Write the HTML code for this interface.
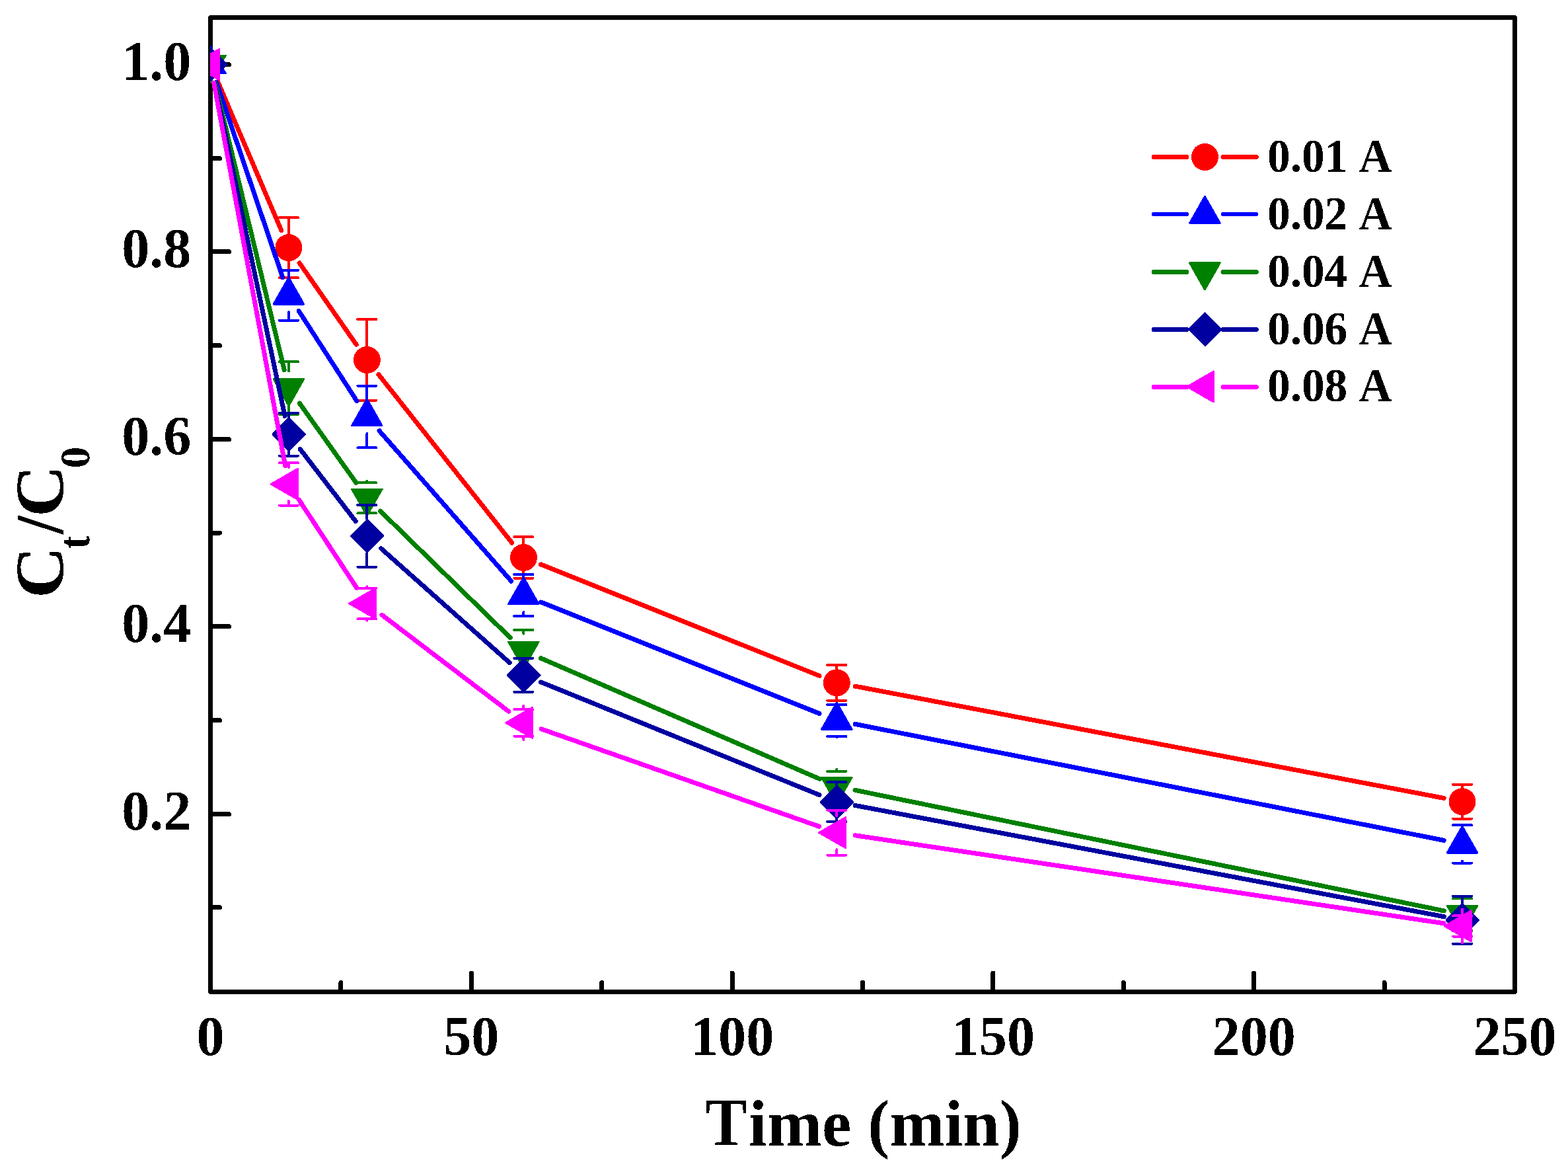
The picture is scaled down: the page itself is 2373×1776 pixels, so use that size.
<!DOCTYPE html>
<html lang="en"><head><meta charset="utf-8"><title>Ct/C0 vs Time</title>
<style>
html,body{margin:0;padding:0;background:#fff;}
body{width:2373px;height:1776px;overflow:hidden;}
svg{display:block;}
text{font-family:"Liberation Serif","Times New Roman",serif;font-weight:bold;fill:#000;filter:url(#px);}
.tk{font-size:83.33px;font-kerning:none;}
.ttl{font-size:100px;font-kerning:none;}
.lg{font-size:70.83px;font-kerning:none;}
</style></head><body>
<svg width="2373" height="1776" viewBox="0 0 2373 1776" shape-rendering="crispEdges">
<rect x="0" y="0" width="2373" height="1776" fill="#ffffff"/>
<defs><filter id="px" x="-5%" y="-5%" width="110%" height="110%" color-interpolation-filters="sRGB"><feComponentTransfer><feFuncA type="discrete" tableValues="0 1"/></feComponentTransfer></filter></defs>
<defs><clipPath id="cp"><rect x="318.0" y="26.0" width="1975.0" height="1474.9"/></clipPath></defs>
<g stroke="#000" stroke-width="7" fill="none" stroke-linecap="round">
<line x1="318.50" y1="1500.4" x2="318.50" y2="1472.10"/>
<line x1="515.90" y1="1500.4" x2="515.90" y2="1486.40"/>
<line x1="713.30" y1="1500.4" x2="713.30" y2="1472.10"/>
<line x1="910.70" y1="1500.4" x2="910.70" y2="1486.40"/>
<line x1="1108.10" y1="1500.4" x2="1108.10" y2="1472.10"/>
<line x1="1305.50" y1="1500.4" x2="1305.50" y2="1486.40"/>
<line x1="1502.90" y1="1500.4" x2="1502.90" y2="1472.10"/>
<line x1="1700.30" y1="1500.4" x2="1700.30" y2="1486.40"/>
<line x1="1897.70" y1="1500.4" x2="1897.70" y2="1472.10"/>
<line x1="2095.10" y1="1500.4" x2="2095.10" y2="1486.40"/>
<line x1="2292.50" y1="1500.4" x2="2292.50" y2="1472.10"/>
<line x1="318.5" y1="1372.50" x2="332.50" y2="1372.50"/>
<line x1="318.5" y1="1231.50" x2="346.50" y2="1231.50"/>
<line x1="318.5" y1="1089.50" x2="332.50" y2="1089.50"/>
<line x1="318.5" y1="947.50" x2="346.50" y2="947.50"/>
<line x1="318.5" y1="806.00" x2="332.50" y2="806.00"/>
<line x1="318.5" y1="664.50" x2="346.50" y2="664.50"/>
<line x1="318.5" y1="522.50" x2="332.50" y2="522.50"/>
<line x1="318.5" y1="380.50" x2="346.50" y2="380.50"/>
<line x1="318.5" y1="239.50" x2="332.50" y2="239.50"/>
<line x1="318.5" y1="97.50" x2="346.50" y2="97.50"/>
</g>
<rect x="318.5" y="26.5" width="1974.0" height="1473.9" fill="none" stroke="#000" stroke-width="7" stroke-linejoin="round"/>
<g clip-path="url(#cp)">
<g stroke="#ff0000" fill="none">
<line x1="329.62" y1="123.52" x2="425.82" y2="348.58" stroke-width="7.0" stroke-linecap="round"/>
<line x1="453.13" y1="397.81" x2="539.19" y2="521.19" stroke-width="7.0" stroke-linecap="round"/>
<line x1="572.96" y1="566.58" x2="774.82" y2="821.22" stroke-width="7.0" stroke-linecap="round"/>
<line x1="818.68" y1="853.90" x2="1240.02" y2="1022.30" stroke-width="7.0" stroke-linecap="round"/>
<line x1="1294.10" y1="1038.08" x2="2185.20" y2="1207.42" stroke-width="7.0" stroke-linecap="round"/>
<line x1="422.84" y1="329.10" x2="451.04" y2="329.10" stroke-width="4" stroke-linecap="round"/>
<line x1="436.94" y1="353.60" x2="436.94" y2="329.10" stroke-width="4" stroke-linecap="round"/>
<line x1="422.84" y1="420.10" x2="451.04" y2="420.10" stroke-width="4" stroke-linecap="round"/>
<line x1="436.94" y1="395.60" x2="436.94" y2="420.10" stroke-width="4" stroke-linecap="round"/>
<line x1="541.28" y1="483.10" x2="569.48" y2="483.10" stroke-width="4" stroke-linecap="round"/>
<line x1="555.38" y1="523.40" x2="555.38" y2="483.10" stroke-width="4" stroke-linecap="round"/>
<line x1="541.28" y1="605.70" x2="569.48" y2="605.70" stroke-width="4" stroke-linecap="round"/>
<line x1="555.38" y1="565.40" x2="555.38" y2="605.70" stroke-width="4" stroke-linecap="round"/>
<line x1="778.30" y1="812.20" x2="806.50" y2="812.20" stroke-width="4" stroke-linecap="round"/>
<line x1="792.40" y1="822.40" x2="792.40" y2="812.20" stroke-width="4" stroke-linecap="round"/>
<line x1="778.30" y1="874.60" x2="806.50" y2="874.60" stroke-width="4" stroke-linecap="round"/>
<line x1="792.40" y1="864.40" x2="792.40" y2="874.60" stroke-width="4" stroke-linecap="round"/>
<line x1="1252.20" y1="1005.90" x2="1280.40" y2="1005.90" stroke-width="4" stroke-linecap="round"/>
<line x1="1266.30" y1="1011.80" x2="1266.30" y2="1005.90" stroke-width="4" stroke-linecap="round"/>
<line x1="1252.20" y1="1059.70" x2="1280.40" y2="1059.70" stroke-width="4" stroke-linecap="round"/>
<line x1="1266.30" y1="1053.80" x2="1266.30" y2="1059.70" stroke-width="4" stroke-linecap="round"/>
<line x1="2198.90" y1="1186.90" x2="2227.10" y2="1186.90" stroke-width="4" stroke-linecap="round"/>
<line x1="2213.00" y1="1191.70" x2="2213.00" y2="1186.90" stroke-width="4" stroke-linecap="round"/>
<line x1="2198.90" y1="1238.50" x2="2227.10" y2="1238.50" stroke-width="4" stroke-linecap="round"/>
<line x1="2213.00" y1="1233.70" x2="2213.00" y2="1238.50" stroke-width="4" stroke-linecap="round"/>
</g>
<circle cx="318.50" cy="97.50" r="20.5" fill="#ff0000"/>
<circle cx="436.94" cy="374.60" r="20.5" fill="#ff0000"/>
<circle cx="555.38" cy="544.40" r="20.5" fill="#ff0000"/>
<circle cx="792.40" cy="843.40" r="20.5" fill="#ff0000"/>
<circle cx="1266.30" cy="1032.80" r="20.5" fill="#ff0000"/>
<circle cx="2213.00" cy="1212.70" r="20.5" fill="#ff0000"/>
<g stroke="#0000ff" fill="none">
<line x1="327.59" y1="124.30" x2="427.85" y2="419.90" stroke-width="7.0" stroke-linecap="round"/>
<line x1="452.27" y1="470.49" x2="540.05" y2="606.71" stroke-width="7.0" stroke-linecap="round"/>
<line x1="574.05" y1="651.76" x2="773.73" y2="879.14" stroke-width="7.0" stroke-linecap="round"/>
<line x1="818.68" y1="910.91" x2="1240.02" y2="1079.39" stroke-width="7.0" stroke-linecap="round"/>
<line x1="1294.06" y1="1095.38" x2="2185.24" y2="1271.32" stroke-width="7.0" stroke-linecap="round"/>
<line x1="422.84" y1="408.70" x2="451.04" y2="408.70" stroke-width="4" stroke-linecap="round"/>
<line x1="436.94" y1="421.10" x2="436.94" y2="408.70" stroke-width="4" stroke-linecap="round"/>
<line x1="422.84" y1="484.70" x2="451.04" y2="484.70" stroke-width="4" stroke-linecap="round"/>
<line x1="436.94" y1="472.30" x2="436.94" y2="484.70" stroke-width="4" stroke-linecap="round"/>
<line x1="541.28" y1="583.70" x2="569.48" y2="583.70" stroke-width="4" stroke-linecap="round"/>
<line x1="555.38" y1="604.90" x2="555.38" y2="583.70" stroke-width="4" stroke-linecap="round"/>
<line x1="541.28" y1="677.30" x2="569.48" y2="677.30" stroke-width="4" stroke-linecap="round"/>
<line x1="555.38" y1="656.10" x2="555.38" y2="677.30" stroke-width="4" stroke-linecap="round"/>
<line x1="778.30" y1="868.90" x2="806.50" y2="868.90" stroke-width="4" stroke-linecap="round"/>
<line x1="792.40" y1="874.80" x2="792.40" y2="868.90" stroke-width="4" stroke-linecap="round"/>
<line x1="778.30" y1="931.90" x2="806.50" y2="931.90" stroke-width="4" stroke-linecap="round"/>
<line x1="792.40" y1="926.00" x2="792.40" y2="931.90" stroke-width="4" stroke-linecap="round"/>
<line x1="1252.20" y1="1065.90" x2="1280.40" y2="1065.90" stroke-width="4" stroke-linecap="round"/>
<line x1="1266.30" y1="1064.30" x2="1266.30" y2="1065.90" stroke-width="4" stroke-linecap="round"/>
<line x1="1252.20" y1="1113.90" x2="1280.40" y2="1113.90" stroke-width="4" stroke-linecap="round"/>
<line x1="1266.30" y1="1115.50" x2="1266.30" y2="1113.90" stroke-width="4" stroke-linecap="round"/>
<line x1="2198.90" y1="1248.10" x2="2227.10" y2="1248.10" stroke-width="4" stroke-linecap="round"/>
<line x1="2213.00" y1="1251.20" x2="2213.00" y2="1248.10" stroke-width="4" stroke-linecap="round"/>
<line x1="2198.90" y1="1305.50" x2="2227.10" y2="1305.50" stroke-width="4" stroke-linecap="round"/>
<line x1="2213.00" y1="1302.40" x2="2213.00" y2="1305.50" stroke-width="4" stroke-linecap="round"/>
</g>
<polygon points="318.50,70.90 341.25,110.90 295.75,110.90" fill="#0000ff" stroke="#0000ff" stroke-width="3.0" stroke-linejoin="round"/>
<polygon points="436.94,420.10 459.69,460.10 414.19,460.10" fill="#0000ff" stroke="#0000ff" stroke-width="3.0" stroke-linejoin="round"/>
<polygon points="555.38,603.90 578.13,643.90 532.63,643.90" fill="#0000ff" stroke="#0000ff" stroke-width="3.0" stroke-linejoin="round"/>
<polygon points="792.40,873.80 815.15,913.80 769.65,913.80" fill="#0000ff" stroke="#0000ff" stroke-width="3.0" stroke-linejoin="round"/>
<polygon points="1266.30,1063.30 1289.05,1103.30 1243.55,1103.30" fill="#0000ff" stroke="#0000ff" stroke-width="3.0" stroke-linejoin="round"/>
<polygon points="2213.00,1250.20 2235.75,1290.20 2190.25,1290.20" fill="#0000ff" stroke="#0000ff" stroke-width="3.0" stroke-linejoin="round"/>
<g stroke="#008000" fill="none">
<line x1="325.16" y1="125.01" x2="430.28" y2="559.49" stroke-width="7.0" stroke-linecap="round"/>
<line x1="453.35" y1="610.06" x2="538.97" y2="730.34" stroke-width="7.0" stroke-linecap="round"/>
<line x1="575.65" y1="773.15" x2="772.13" y2="964.65" stroke-width="7.0" stroke-linecap="round"/>
<line x1="818.37" y1="995.65" x2="1240.33" y2="1178.35" stroke-width="7.0" stroke-linecap="round"/>
<line x1="1294.02" y1="1195.28" x2="2185.28" y2="1377.92" stroke-width="7.0" stroke-linecap="round"/>
<line x1="422.84" y1="547.30" x2="451.04" y2="547.30" stroke-width="4" stroke-linecap="round"/>
<line x1="436.94" y1="561.40" x2="436.94" y2="547.30" stroke-width="4" stroke-linecap="round"/>
<line x1="422.84" y1="626.70" x2="451.04" y2="626.70" stroke-width="4" stroke-linecap="round"/>
<line x1="436.94" y1="612.60" x2="436.94" y2="626.70" stroke-width="4" stroke-linecap="round"/>
<line x1="541.28" y1="730.40" x2="569.48" y2="730.40" stroke-width="4" stroke-linecap="round"/>
<line x1="555.38" y1="727.80" x2="555.38" y2="730.40" stroke-width="4" stroke-linecap="round"/>
<line x1="541.28" y1="776.40" x2="569.48" y2="776.40" stroke-width="4" stroke-linecap="round"/>
<line x1="555.38" y1="779.00" x2="555.38" y2="776.40" stroke-width="4" stroke-linecap="round"/>
<line x1="778.30" y1="953.00" x2="806.50" y2="953.00" stroke-width="4" stroke-linecap="round"/>
<line x1="792.40" y1="958.80" x2="792.40" y2="953.00" stroke-width="4" stroke-linecap="round"/>
<line x1="778.30" y1="1015.80" x2="806.50" y2="1015.80" stroke-width="4" stroke-linecap="round"/>
<line x1="792.40" y1="1010.00" x2="792.40" y2="1015.80" stroke-width="4" stroke-linecap="round"/>
<line x1="1252.20" y1="1166.80" x2="1280.40" y2="1166.80" stroke-width="4" stroke-linecap="round"/>
<line x1="1266.30" y1="1164.00" x2="1266.30" y2="1166.80" stroke-width="4" stroke-linecap="round"/>
<line x1="1252.20" y1="1212.40" x2="1280.40" y2="1212.40" stroke-width="4" stroke-linecap="round"/>
<line x1="1266.30" y1="1215.20" x2="1266.30" y2="1212.40" stroke-width="4" stroke-linecap="round"/>
<line x1="2198.90" y1="1359.20" x2="2227.10" y2="1359.20" stroke-width="4" stroke-linecap="round"/>
<line x1="2213.00" y1="1358.00" x2="2213.00" y2="1359.20" stroke-width="4" stroke-linecap="round"/>
<line x1="2198.90" y1="1408.00" x2="2227.10" y2="1408.00" stroke-width="4" stroke-linecap="round"/>
<line x1="2213.00" y1="1409.20" x2="2213.00" y2="1408.00" stroke-width="4" stroke-linecap="round"/>
</g>
<polygon points="318.50,124.10 341.25,84.10 295.75,84.10" fill="#008000" stroke="#008000" stroke-width="3.0" stroke-linejoin="round"/>
<polygon points="436.94,613.60 459.69,573.60 414.19,573.60" fill="#008000" stroke="#008000" stroke-width="3.0" stroke-linejoin="round"/>
<polygon points="555.38,780.00 578.13,740.00 532.63,740.00" fill="#008000" stroke="#008000" stroke-width="3.0" stroke-linejoin="round"/>
<polygon points="792.40,1011.00 815.15,971.00 769.65,971.00" fill="#008000" stroke="#008000" stroke-width="3.0" stroke-linejoin="round"/>
<polygon points="1266.30,1216.20 1289.05,1176.20 1243.55,1176.20" fill="#008000" stroke="#008000" stroke-width="3.0" stroke-linejoin="round"/>
<polygon points="2213.00,1410.20 2235.75,1370.20 2190.25,1370.20" fill="#008000" stroke="#008000" stroke-width="3.0" stroke-linejoin="round"/>
<g stroke="#0000a0" fill="none">
<line x1="324.36" y1="125.19" x2="431.08" y2="629.31" stroke-width="7.0" stroke-linecap="round"/>
<line x1="454.21" y1="679.42" x2="538.11" y2="788.38" stroke-width="7.0" stroke-linecap="round"/>
<line x1="576.54" y1="829.59" x2="771.24" y2="1002.51" stroke-width="7.0" stroke-linecap="round"/>
<line x1="818.63" y1="1031.92" x2="1240.07" y2="1202.58" stroke-width="7.0" stroke-linecap="round"/>
<line x1="1294.11" y1="1218.45" x2="2185.19" y2="1386.65" stroke-width="7.0" stroke-linecap="round"/>
<line x1="422.84" y1="624.50" x2="451.04" y2="624.50" stroke-width="4" stroke-linecap="round"/>
<line x1="436.94" y1="631.40" x2="436.94" y2="624.50" stroke-width="4" stroke-linecap="round"/>
<line x1="422.84" y1="689.50" x2="451.04" y2="689.50" stroke-width="4" stroke-linecap="round"/>
<line x1="436.94" y1="682.60" x2="436.94" y2="689.50" stroke-width="4" stroke-linecap="round"/>
<line x1="541.28" y1="763.90" x2="569.48" y2="763.90" stroke-width="4" stroke-linecap="round"/>
<line x1="555.38" y1="785.20" x2="555.38" y2="763.90" stroke-width="4" stroke-linecap="round"/>
<line x1="541.28" y1="857.70" x2="569.48" y2="857.70" stroke-width="4" stroke-linecap="round"/>
<line x1="555.38" y1="836.40" x2="555.38" y2="857.70" stroke-width="4" stroke-linecap="round"/>
<line x1="778.30" y1="995.80" x2="806.50" y2="995.80" stroke-width="4" stroke-linecap="round"/>
<line x1="792.40" y1="995.70" x2="792.40" y2="995.80" stroke-width="4" stroke-linecap="round"/>
<line x1="778.30" y1="1046.80" x2="806.50" y2="1046.80" stroke-width="4" stroke-linecap="round"/>
<line x1="792.40" y1="1046.90" x2="792.40" y2="1046.80" stroke-width="4" stroke-linecap="round"/>
<line x1="1252.20" y1="1183.40" x2="1280.40" y2="1183.40" stroke-width="4" stroke-linecap="round"/>
<line x1="1266.30" y1="1187.60" x2="1266.30" y2="1183.40" stroke-width="4" stroke-linecap="round"/>
<line x1="1252.20" y1="1243.00" x2="1280.40" y2="1243.00" stroke-width="4" stroke-linecap="round"/>
<line x1="1266.30" y1="1238.80" x2="1266.30" y2="1243.00" stroke-width="4" stroke-linecap="round"/>
<line x1="2198.90" y1="1355.90" x2="2227.10" y2="1355.90" stroke-width="4" stroke-linecap="round"/>
<line x1="2213.00" y1="1366.30" x2="2213.00" y2="1355.90" stroke-width="4" stroke-linecap="round"/>
<line x1="2198.90" y1="1427.90" x2="2227.10" y2="1427.90" stroke-width="4" stroke-linecap="round"/>
<line x1="2213.00" y1="1417.50" x2="2213.00" y2="1427.90" stroke-width="4" stroke-linecap="round"/>
</g>
<polygon points="318.80,73.20 343.10,97.50 318.80,121.80 294.50,97.50" fill="#0000a0" stroke="#0000a0" stroke-width="3.0" stroke-linejoin="round"/>
<polygon points="437.24,632.70 461.54,657.00 437.24,681.30 412.94,657.00" fill="#0000a0" stroke="#0000a0" stroke-width="3.0" stroke-linejoin="round"/>
<polygon points="555.68,786.50 579.98,810.80 555.68,835.10 531.38,810.80" fill="#0000a0" stroke="#0000a0" stroke-width="3.0" stroke-linejoin="round"/>
<polygon points="792.70,997.00 817.00,1021.30 792.70,1045.60 768.40,1021.30" fill="#0000a0" stroke="#0000a0" stroke-width="3.0" stroke-linejoin="round"/>
<polygon points="1266.60,1188.90 1290.90,1213.20 1266.60,1237.50 1242.30,1213.20" fill="#0000a0" stroke="#0000a0" stroke-width="3.0" stroke-linejoin="round"/>
<polygon points="2213.30,1367.60 2237.60,1391.90 2213.30,1416.20 2189.00,1391.90" fill="#0000a0" stroke="#0000a0" stroke-width="3.0" stroke-linejoin="round"/>
<g stroke="#ff00ff" fill="none">
<line x1="323.69" y1="125.32" x2="431.75" y2="704.58" stroke-width="7.0" stroke-linecap="round"/>
<line x1="452.46" y1="756.06" x2="539.86" y2="889.34" stroke-width="7.0" stroke-linecap="round"/>
<line x1="577.90" y1="930.14" x2="769.88" y2="1076.26" stroke-width="7.0" stroke-linecap="round"/>
<line x1="819.11" y1="1102.77" x2="1239.59" y2="1250.23" stroke-width="7.0" stroke-linecap="round"/>
<line x1="1294.29" y1="1263.78" x2="2185.01" y2="1396.82" stroke-width="7.0" stroke-linecap="round"/>
<line x1="422.84" y1="700.20" x2="451.04" y2="700.20" stroke-width="4" stroke-linecap="round"/>
<line x1="436.94" y1="706.80" x2="436.94" y2="700.20" stroke-width="4" stroke-linecap="round"/>
<line x1="422.84" y1="764.60" x2="451.04" y2="764.60" stroke-width="4" stroke-linecap="round"/>
<line x1="436.94" y1="758.00" x2="436.94" y2="764.60" stroke-width="4" stroke-linecap="round"/>
<line x1="541.28" y1="889.70" x2="569.48" y2="889.70" stroke-width="4" stroke-linecap="round"/>
<line x1="555.38" y1="887.40" x2="555.38" y2="889.70" stroke-width="4" stroke-linecap="round"/>
<line x1="541.28" y1="936.30" x2="569.48" y2="936.30" stroke-width="4" stroke-linecap="round"/>
<line x1="555.38" y1="938.60" x2="555.38" y2="936.30" stroke-width="4" stroke-linecap="round"/>
<line x1="778.30" y1="1073.20" x2="806.50" y2="1073.20" stroke-width="4" stroke-linecap="round"/>
<line x1="792.40" y1="1067.80" x2="792.40" y2="1073.20" stroke-width="4" stroke-linecap="round"/>
<line x1="778.30" y1="1113.60" x2="806.50" y2="1113.60" stroke-width="4" stroke-linecap="round"/>
<line x1="792.40" y1="1119.00" x2="792.40" y2="1113.60" stroke-width="4" stroke-linecap="round"/>
<line x1="1252.20" y1="1225.70" x2="1280.40" y2="1225.70" stroke-width="4" stroke-linecap="round"/>
<line x1="1266.30" y1="1234.00" x2="1266.30" y2="1225.70" stroke-width="4" stroke-linecap="round"/>
<line x1="1252.20" y1="1293.50" x2="1280.40" y2="1293.50" stroke-width="4" stroke-linecap="round"/>
<line x1="1266.30" y1="1285.20" x2="1266.30" y2="1293.50" stroke-width="4" stroke-linecap="round"/>
<line x1="2198.90" y1="1385.40" x2="2227.10" y2="1385.40" stroke-width="4" stroke-linecap="round"/>
<line x1="2213.00" y1="1375.40" x2="2213.00" y2="1385.40" stroke-width="4" stroke-linecap="round"/>
<line x1="2198.90" y1="1416.60" x2="2227.10" y2="1416.60" stroke-width="4" stroke-linecap="round"/>
<line x1="2213.00" y1="1426.60" x2="2213.00" y2="1416.60" stroke-width="4" stroke-linecap="round"/>
</g>
<polygon points="291.90,97.50 331.90,74.50 331.90,120.50" fill="#ff00ff" stroke="#ff00ff" stroke-width="3.0" stroke-linejoin="round"/>
<polygon points="410.34,732.40 450.34,709.40 450.34,755.40" fill="#ff00ff" stroke="#ff00ff" stroke-width="3.0" stroke-linejoin="round"/>
<polygon points="528.78,913.00 568.78,890.00 568.78,936.00" fill="#ff00ff" stroke="#ff00ff" stroke-width="3.0" stroke-linejoin="round"/>
<polygon points="765.80,1093.40 805.80,1070.40 805.80,1116.40" fill="#ff00ff" stroke="#ff00ff" stroke-width="3.0" stroke-linejoin="round"/>
<polygon points="1239.70,1259.60 1279.70,1236.60 1279.70,1282.60" fill="#ff00ff" stroke="#ff00ff" stroke-width="3.0" stroke-linejoin="round"/>
<polygon points="2186.40,1401.00 2226.40,1378.00 2226.40,1424.00" fill="#ff00ff" stroke="#ff00ff" stroke-width="3.0" stroke-linejoin="round"/>
</g>
<text class="tk" transform="translate(289.4,121.10) scale(1.01,1.019)" text-anchor="end">1.0</text>
<text class="tk" transform="translate(289.4,404.10) scale(1.01,1.019)" text-anchor="end">0.8</text>
<text class="tk" transform="translate(289.4,688.10) scale(1.01,1.019)" text-anchor="end">0.6</text>
<text class="tk" transform="translate(289.4,971.10) scale(1.01,1.019)" text-anchor="end">0.4</text>
<text class="tk" transform="translate(289.4,1255.10) scale(1.01,1.019)" text-anchor="end">0.2</text>
<text class="tk" transform="translate(318.50,1596.2) scale(1.01,1.019)" text-anchor="middle">0</text>
<text class="tk" transform="translate(713.30,1596.2) scale(1.01,1.019)" text-anchor="middle">50</text>
<text class="tk" transform="translate(1108.10,1596.2) scale(1.01,1.019)" text-anchor="middle">100</text>
<text class="tk" transform="translate(1502.90,1596.2) scale(1.01,1.019)" text-anchor="middle">150</text>
<text class="tk" transform="translate(1897.70,1596.2) scale(1.01,1.019)" text-anchor="middle">200</text>
<text class="tk" transform="translate(2292.50,1596.2) scale(1.01,1.019)" text-anchor="middle">250</text>
<text class="ttl" transform="translate(1067.4,1732.9) scale(0.997,1)"><tspan font-size="103.8" textLength="63.3" lengthAdjust="spacingAndGlyphs">T</tspan><tspan font-size="100" dx="2.8">ime (min)</tspan></text>
<text class="ttl" transform="translate(95.2,905.0) rotate(-90) scale(1,1.028)"><tspan textLength="78" lengthAdjust="spacingAndGlyphs">C</tspan><tspan dy="38.7" dx="-2.9" font-size="65" textLength="19.5" lengthAdjust="spacingAndGlyphs">t</tspan><tspan dy="-38.7" dx="2.5">/</tspan><tspan dx="-2" textLength="78" lengthAdjust="spacingAndGlyphs">C</tspan><tspan dy="38.7" dx="-4.3" font-size="62" textLength="32.9" lengthAdjust="spacingAndGlyphs">0</tspan></text>
<g stroke="#ff0000" stroke-width="7" stroke-linecap="round">
<line x1="1746.2" y1="237.5" x2="1795.9" y2="237.5"/>
<line x1="1850.9" y1="237.5" x2="1901.2" y2="237.5"/>
</g>
<circle cx="1823.40" cy="237.50" r="20.5" fill="#ff0000"/>
<text class="lg" transform="translate(1918.0,259.70) scale(0.978,1.029)">0.01 A</text>
<g stroke="#0000ff" stroke-width="6" stroke-linecap="round">
<line x1="1746.2" y1="324.0" x2="1795.9" y2="324.0"/>
<line x1="1850.9" y1="324.0" x2="1901.2" y2="324.0"/>
</g>
<polygon points="1823.40,297.40 1846.15,337.40 1800.65,337.40" fill="#0000ff" stroke="#0000ff" stroke-width="3.0" stroke-linejoin="round"/>
<text class="lg" transform="translate(1918.0,346.70) scale(0.978,1.029)">0.02 A</text>
<g stroke="#008000" stroke-width="7" stroke-linecap="round">
<line x1="1746.2" y1="411.5" x2="1795.9" y2="411.5"/>
<line x1="1850.9" y1="411.5" x2="1901.2" y2="411.5"/>
</g>
<polygon points="1823.40,437.90 1846.15,397.90 1800.65,397.90" fill="#008000" stroke="#008000" stroke-width="3.0" stroke-linejoin="round"/>
<text class="lg" transform="translate(1918.0,433.60) scale(0.978,1.029)">0.04 A</text>
<g stroke="#0000a0" stroke-width="7" stroke-linecap="round">
<line x1="1746.2" y1="498.5" x2="1795.9" y2="498.5"/>
<line x1="1850.9" y1="498.5" x2="1901.2" y2="498.5"/>
</g>
<polygon points="1823.70,473.90 1848.00,498.20 1823.70,522.50 1799.40,498.20" fill="#0000a0" stroke="#0000a0" stroke-width="3.0" stroke-linejoin="round"/>
<text class="lg" transform="translate(1918.0,521.30) scale(0.978,1.029)">0.06 A</text>
<g stroke="#ff00ff" stroke-width="7" stroke-linecap="round">
<line x1="1746.2" y1="585.5" x2="1795.9" y2="585.5"/>
<line x1="1850.9" y1="585.5" x2="1901.2" y2="585.5"/>
</g>
<polygon points="1796.80,585.00 1836.80,562.00 1836.80,608.00" fill="#ff00ff" stroke="#ff00ff" stroke-width="3.0" stroke-linejoin="round"/>
<text class="lg" transform="translate(1918.0,607.20) scale(0.978,1.029)">0.08 A</text>
</svg>
</body></html>
